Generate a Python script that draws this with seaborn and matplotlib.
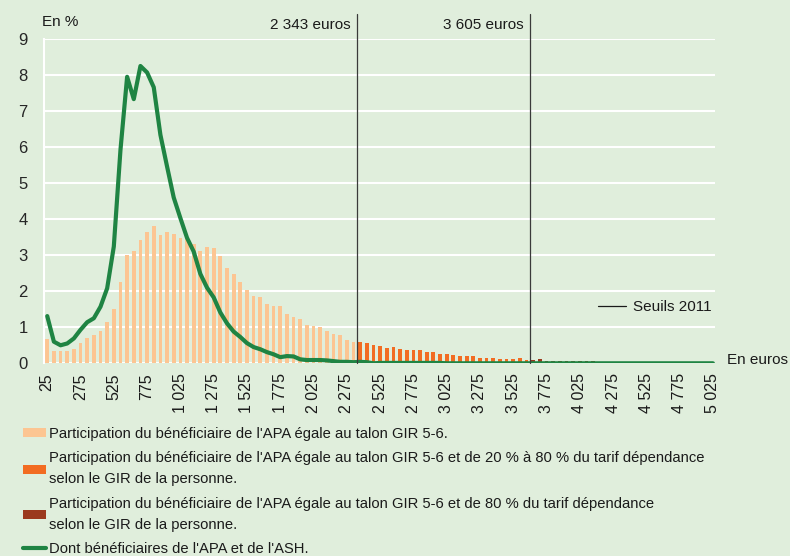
import numpy as np
import pandas as pd
import matplotlib.pyplot as plt
import seaborn as sns
from matplotlib.patches import Patch
from matplotlib.lines import Line2D

# montant de la participation (centre de tranche de 50 euros)
montants = list(range(25, 5026, 50))

# part des bénéficiaires (en %) selon la règle de participation
talon = [0.68, 0.34, 0.34, 0.34, 0.41, 0.56, 0.71, 0.78, 0.90, 1.15,
         1.51, 2.26, 3.00, 3.12, 3.42, 3.64, 3.81, 3.57, 3.64, 3.58,
         3.48, 3.45, 3.32, 3.12, 3.22, 3.20, 2.98, 2.65, 2.48, 2.26,
         2.04, 1.88, 1.84, 1.65, 1.58, 1.59, 1.36, 1.29, 1.23, 1.06,
         1.04, 1.02, 0.90, 0.81, 0.78, 0.65, 0.60]
talon_20_80 = [0.60, 0.56, 0.52, 0.49, 0.43, 0.45, 0.40, 0.38, 0.36, 0.38,
               0.30, 0.30, 0.26, 0.26, 0.23, 0.19, 0.19, 0.19, 0.16, 0.16,
               0.14, 0.11, 0.11, 0.11, 0.14, 0.08]
talon_80 = [0.09, 0.11, 0.07, 0.07, 0.07, 0.06, 0.06, 0.06, 0.05, 0.06,
            0.04, 0.04, 0.04, 0.04, 0.04, 0.02, 0.02, 0.02, 0.02, 0.02,
            0.02, 0.01, 0.01, 0.01, 0.01, 0.01, 0.01, 0.01]

# dont bénéficiaires de l'APA et de l'ASH
apa_ash = [1.31, 0.60, 0.50, 0.55, 0.69, 0.93, 1.14, 1.25, 1.57, 2.08,
           3.24, 5.92, 7.95, 7.33, 8.25, 8.07, 7.66, 6.34, 5.46, 4.60,
           4.03, 3.48, 3.10, 2.48, 2.10, 1.83, 1.41, 1.11, 0.88, 0.73,
           0.56, 0.45, 0.39, 0.31, 0.25, 0.17, 0.20, 0.19, 0.11, 0.09,
           0.09, 0.09, 0.08, 0.06, 0.04, 0.04, 0.03, 0.04, 0.03, 0.00,
           0.01, 0.01, 0.01, 0.01, 0.01, 0.01, 0.01, 0.01, 0.01, 0.01,
           0.0, 0.0, 0.0, 0.0, 0.0, 0.0, 0.0, 0.0, 0.0, 0.0,
           0.0, 0.0, 0.0, 0.0, 0.0, 0.0, 0.0, 0.0, 0.0, 0.0,
           0.0, 0.0, 0.0, 0.0, 0.0, 0.0, 0.0, 0.0, 0.0, 0.0,
           0.0, 0.0, 0.0, 0.0, 0.0, 0.0, 0.0, 0.0, 0.0, 0.0, 0.0]

seuils = ["2 343 euros", "3 605 euros"]

groupes = [
    "Participation du bénéficiaire de l'APA égale au talon GIR 5-6.",
    "Participation du bénéficiaire de l'APA égale au talon GIR 5-6 et de 20 % à 80 % du tarif dépendance\nselon le GIR de la personne.",
    "Participation du bénéficiaire de l'APA égale au talon GIR 5-6 et de 80 % du tarif dépendance\nselon le GIR de la personne.",
]
label_ash = "Dont bénéficiaires de l'APA et de l'ASH."
couleurs = ["#fcc592", "#f26c22", "#9b391e"]
vert = "#1f8443"
fond = "#e0eedc"

df = pd.DataFrame({
    "montant": montants,
    "part": talon + talon_20_80 + talon_80,
    "groupe": [groupes[0]] * len(talon) + [groupes[1]] * len(talon_20_80) + [groupes[2]] * len(talon_80),
})

sns.set_style("white")
plt.rcParams["font.family"] = ["Liberation Sans", "DejaVu Sans"]
plt.rcParams["text.color"] = "#1a1a1a"

fig = plt.figure(figsize=(7.9, 5.56), dpi=100, facecolor=fond)
ax = fig.add_axes([0.056, 0.3466, 0.849, 0.5833], facecolor=fond)

sns.barplot(data=df, x="montant", y="part", hue="groupe", hue_order=groupes,
            palette=couleurs, saturation=1, dodge=False, width=0.56, legend=False,
            edgecolor="none", linewidth=0, ax=ax)
pos = np.arange(len(montants))
sns.lineplot(x=pos, y=apa_ash, color=vert, linewidth=3, ax=ax, zorder=4)

# seuils 2011
limites = [len(talon) - 0.5, len(talon) + len(talon_20_80) - 0.5]
for x, txt in zip(limites, seuils):
    ax.axvline(x, ymin=0, ymax=1.077, clip_on=False, color="#3a3a3a", lw=0.9, zorder=5)
    ax.text(x - 0.9, 1.043, txt, transform=ax.get_xaxis_transform(),
            ha="right", va="center", fontsize=11)

ax.set_ylim(0, 9)
ax.set_xlim(-0.45, 100.3)
ax.set_yticks(range(10))
ax.yaxis.grid(True, color="white", lw=1.5)
ax.set_axisbelow(True)
ax.set_xticks(pos[::5])
ax.set_xticks(pos, minor=True)
ax.set_xticklabels([f"{m:,}".replace(",", " ") for m in montants[::5]], rotation=90)
ax.tick_params(axis="x", which="both", colors="white", length=3, width=1, labelcolor="#1a1a1a",
               labelsize=11.5, pad=4)
ax.tick_params(axis="y", length=0, labelsize=12, pad=12)
for s in ["top", "right", "bottom"]:
    ax.spines[s].set_visible(False)
ax.spines["left"].set_color("white")
ax.spines["left"].set_linewidth(1.5)
ax.set_xlabel("")
ax.set_ylabel("")

ax.text(-0.003, 1.052, "En %", transform=ax.transAxes, ha="left", va="center", fontsize=11)
ax.text(1.018, 0.01, "En euros", transform=ax.transAxes, ha="left", va="center", fontsize=11)

seuil_handle = Line2D([], [], color="#1a1a1a", lw=0.9)
ax.legend([seuil_handle], ["Seuils 2011"], loc="center right", bbox_to_anchor=(0.9955, 0.174),
          frameon=False, fontsize=11, handlelength=1.85, handletextpad=0.45,
          borderpad=0, borderaxespad=0)

handles = [Patch(facecolor=c, edgecolor="none") for c in couleurs]
handles.append(Line2D([], [], color=vert, lw=3))
leg = fig.legend(handles, groupes + [label_ash], loc="upper left",
                 bbox_to_anchor=(0.029, 1 - 427 / 556), frameon=False, fontsize=10.6,
                 handlelength=1.55, handleheight=0.6, handletextpad=0.2,
                 labelspacing=0.71, borderpad=0, borderaxespad=0)
for t in leg.get_texts():
    t.set_linespacing(1.63)

fig.savefig("out.png", dpi=100, facecolor=fond)
